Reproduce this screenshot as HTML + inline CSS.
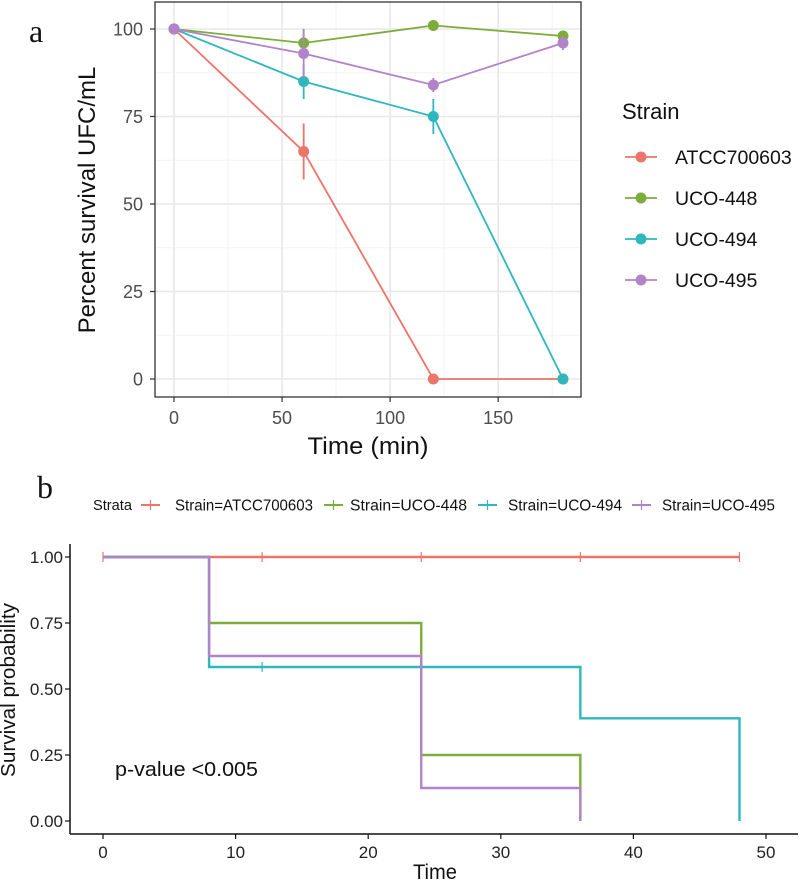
<!DOCTYPE html>
<html><head><meta charset="utf-8"><style>
html,body{margin:0;padding:0;background:#fff;}
svg{display:block;font-family:"Liberation Sans",Arial,sans-serif;}
</style></head><body>
<svg id="chart" width="800" height="881" viewBox="0 0 800 881">
<g id="pa"></g>
<g id="pb"></g>
</svg>
<script>
// ---- Panel a data ----
const strains = ["ATCC700603","UCO-448","UCO-494","UCO-495"];
const colorsA = ["#ec7468","#7cad3a","#2eb7bf","#b283c9"];
const timesA = [0,60,120,180];
const survATCC = [100,65,0,0];
const surv448 = [100,96,101,98];
const surv494 = [100,85,75,0];
const surv495 = [100,93,84,96];
const errATCC = [0,8,0,0];
const err448 = [0,4,1.5,1.5];
const err494 = [0,5,5,0];
const err495 = [0,7,2,2];
const xTicksA = [0,50,100,150];
const yTicksA = [0,25,50,75,100];

// ---- Panel b data ----
const strataLabels = ["Strain=ATCC700603","Strain=UCO-448","Strain=UCO-494","Strain=UCO-495"];
const kmTimesATCC = [0,48]; const kmSurvATCC = [1,1];
const kmTimes448 = [0,8,24,36]; const kmSurv448 = [1,0.75,0.25,0];
const kmTimes494 = [0,8,36,48]; const kmSurv494 = [1,0.5833,0.3889,0];
const kmTimes495 = [0,8,24,36]; const kmSurv495 = [1,0.625,0.125,0];
const censorATCC = [0,12,24,36,48];
const censor494 = [12];
const xTicksB = [0,10,20,30,40,50];
const yTicksB = [0,0.25,0.5,0.75,1];

const NS="http://www.w3.org/2000/svg";
function mk(parent,tag,attrs,text){const e=document.createElementNS(NS,tag);for(const k in attrs)e.setAttribute(k,attrs[k]);if(text!==undefined)e.textContent=text;parent.appendChild(e);return e;}

// ===== Panel a =====
const pa=document.getElementById('pa');
const ax=v=>174+(v-0)*(563-174)/180;
const ay=v=>379-(v)*(379-29)/100;
let t=mk(pa,'text',{x:29,y:42,'font-family':'Liberation Serif,serif','font-size':32,fill:'#111'},'a');


[12.5,37.5,62.5,87.5].forEach(v=>{const l=mk(pa,'line',{x1:155,x2:581,y1:ay(v),y2:ay(v),stroke:'#f3f3f3','stroke-width':1});});
[25,75,125,175].forEach(v=>{const l=mk(pa,'line',{x1:ax(v),x2:ax(v),y1:2,y2:397,stroke:'#f3f3f3','stroke-width':1});});
yTicksA.forEach(v=>{const l=mk(pa,'line',{x1:155,x2:581,y1:ay(v),y2:ay(v),stroke:'#e8e8e8','stroke-width':1.6});
 const tk=mk(pa,'line',{x1:150,x2:155,y1:ay(v),y2:ay(v),stroke:'#333','stroke-width':1.2});
 const tl=mk(pa,'text',{x:143,y:ay(v)+6.5,'text-anchor':'end','font-size':18,fill:'#4d4d4d'},v);});
xTicksA.forEach(v=>{const l=mk(pa,'line',{x1:ax(v),x2:ax(v),y1:2,y2:397,stroke:'#e8e8e8','stroke-width':1.6});
 const tk=mk(pa,'line',{x1:ax(v),x2:ax(v),y1:397,y2:402,stroke:'#333','stroke-width':1.2});
 const tl=mk(pa,'text',{x:ax(v),y:424,'text-anchor':'middle','font-size':18,fill:'#4d4d4d'},v);});
const fr=mk(pa,'rect',{x:155,y:2,width:426,height:395,fill:'none',stroke:'#333','stroke-width':1.3});


const sA=[survATCC,surv448,surv494,surv495], eA=[errATCC,err448,err494,err495];
sA.forEach((s,i)=>{
 const g=mk(pa,'g',{});
 
 
 mk(g,'polyline',{points:s.map((v,j)=>ax(timesA[j])+','+ay(v)).join(' '),fill:'none',stroke:colorsA[i],'stroke-width':1.8});
 s.forEach((v,j)=>{
  if(eA[i][j]>0){const eb=mk(g,'line',{x1:ax(timesA[j]),x2:ax(timesA[j]),y1:ay(v-eA[i][j]),y2:ay(v+eA[i][j]),stroke:colorsA[i],'stroke-width':1.8});}
  const c=mk(g,'circle',{cx:ax(timesA[j]),cy:ay(v),r:5.5,fill:colorsA[i]});
  
  
 });
});
t=mk(pa,'text',{x:368,y:454,'text-anchor':'middle','font-size':24,fill:'#111',textLength:121,lengthAdjust:'spacingAndGlyphs'},'Time (min)');


t=mk(pa,'text',{x:0,y:0,'text-anchor':'middle','font-size':24,fill:'#111',transform:'translate(95,200) rotate(-90)'},'Percent survival UFC/mL');


t=mk(pa,'text',{x:622,y:119,'font-size':22,fill:'#111'},'Strain');


strains.forEach((s,i)=>{
 const y=157+i*41;
 const g=mk(pa,'g',{});
 
 
 mk(g,'line',{x1:625,x2:657,y1:y,y2:y,stroke:colorsA[i],'stroke-width':1.8});
 mk(g,'circle',{cx:641,cy:y,r:5.5,fill:colorsA[i]});
 mk(g,'text',{x:675,y:y+7,'font-size':19.5,fill:'#111'},s);
});

// ===== Panel b =====
const pb=document.getElementById('pb');
const bx=v=>103+v*(766-103)/50;
const by=v=>821-v*(821-557);
t=mk(pb,'text',{x:37,y:498,'font-family':'Liberation Serif,serif','font-size':32,fill:'#111'},'b');


t=mk(pb,'text',{x:93,y:510,'font-size':15,fill:'#111',textLength:39,lengthAdjust:'spacingAndGlyphs'},'Strata');


const legKeyX=[141,324,478,632], legTxtX=[175,350,508,662], legTxtW=[138,117,114,113];
strataLabels.forEach((s,i)=>{
 const g=mk(pb,'g',{});
 
 
 mk(g,'line',{x1:legKeyX[i],x2:legKeyX[i]+19,y1:505,y2:505,stroke:colorsA[i],'stroke-width':2});
 mk(g,'line',{x1:legKeyX[i]+9.5,x2:legKeyX[i]+9.5,y1:500,y2:510,stroke:colorsA[i],'stroke-width':1.2});
 mk(g,'text',{x:legTxtX[i],y:510.5,'font-size':15.5,fill:'#111',textLength:legTxtW[i],lengthAdjust:'spacingAndGlyphs'},s);
});
let a=mk(pb,'line',{x1:70,x2:798,y1:834,y2:834,stroke:'#111','stroke-width':1.5});


a=mk(pb,'line',{x1:70,x2:70,y1:544,y2:834,stroke:'#111','stroke-width':1.5});


xTicksB.forEach(v=>{const tk=mk(pb,'line',{x1:bx(v),x2:bx(v),y1:834,y2:839,stroke:'#111','stroke-width':1.2});
 const tl=mk(pb,'text',{x:bx(v),y:858,'text-anchor':'middle','font-size':17,fill:'#222'},v);});
yTicksB.forEach(v=>{const tk=mk(pb,'line',{x1:65,x2:70,y1:by(v),y2:by(v),stroke:'#111','stroke-width':1.2});
 const tl=mk(pb,'text',{x:63,y:by(v)+6,'text-anchor':'end','font-size':17,fill:'#222'},v.toFixed(2));});
t=mk(pb,'text',{x:435,y:879,'text-anchor':'middle','font-size':21,fill:'#111',textLength:44,lengthAdjust:'spacingAndGlyphs'},'Time');


t=mk(pb,'text',{x:0,y:0,'text-anchor':'middle','font-size':20,fill:'#111',textLength:174,lengthAdjust:'spacingAndGlyphs',transform:'translate(15,690) rotate(-90)'},'Survival probability');


t=mk(pb,'text',{x:115,y:776,'font-size':20,fill:'#111',textLength:143,lengthAdjust:'spacingAndGlyphs'},'p-value <0.005');


const kmT=[kmTimesATCC,kmTimes448,kmTimes494,kmTimes495], kmS=[kmSurvATCC,kmSurv448,kmSurv494,kmSurv495];
const censors=[censorATCC,[],censor494,[]];
kmT.forEach((ts,i)=>{
 const ss=kmS[i]; let pts=[];
 for(let j=0;j<ts.length;j++){
  if(j>0) pts.push(bx(ts[j])+','+by(ss[j-1]));
  pts.push(bx(ts[j])+','+by(ss[j]));
 }
 const g=mk(pb,'g',{});
 
 
 mk(g,'polyline',{points:pts.join(' '),fill:'none',stroke:colorsA[i],'stroke-width':2.4});
 censors[i].forEach(c=>{
  let sv=ss[0]; for(let j=0;j<ts.length;j++){ if(ts[j]<=c) sv=ss[j]; }
  if(c===ts[ts.length-1]) sv=ss[ts.length-2];
  const m=mk(g,'line',{x1:bx(c),x2:bx(c),y1:by(sv)-5,y2:by(sv)+5,stroke:colorsA[i],'stroke-width':1.2});
  
  
 });
});
</script>
</body></html>
